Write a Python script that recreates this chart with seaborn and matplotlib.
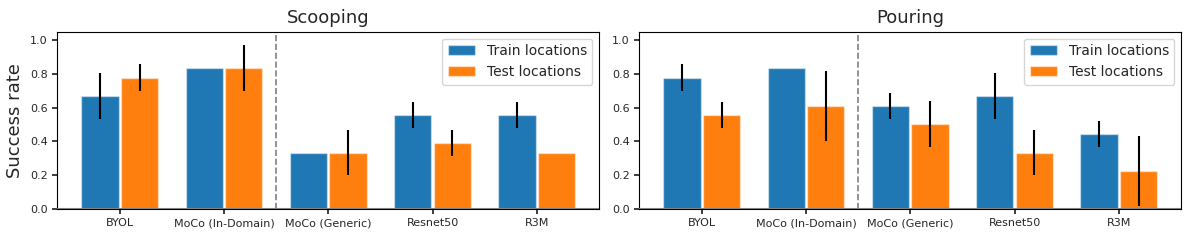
import matplotlib
matplotlib.use("Agg")
import matplotlib.pyplot as plt
import pandas as pd
import seaborn as sns

# Métodos avaliados (eixo x)
methods = ["BYOL", "MoCo (In-Domain)", "MoCo (Generic)", "Resnet50", "R3M"]
splits = ["Train locations", "Test locations"]

# Scooping
scoop_train = [0.667, 0.833, 0.333, 0.556, 0.556]
scoop_train_err = [0.136, 0.0, 0.0, 0.078, 0.078]
scoop_test = [0.778, 0.833, 0.333, 0.389, 0.333]
scoop_test_err = [0.078, 0.136, 0.136, 0.078, 0.0]

# Pouring
pour_train = [0.778, 0.833, 0.611, 0.667, 0.444]
pour_train_err = [0.078, 0.0, 0.078, 0.136, 0.078]
pour_test = [0.556, 0.611, 0.500, 0.333, 0.222]
pour_test_err = [0.078, 0.208, 0.136, 0.136, 0.208]

colors = ["#1f77b4", "#ff7f0e"]


def _make_df(train, test):
    rows = []
    for m, v in zip(methods, train):
        rows.append({"method": m, "split": splits[0], "rate": v})
    for m, v in zip(methods, test):
        rows.append({"method": m, "split": splits[1], "rate": v})
    return pd.DataFrame(rows)


def _plot_task(ax, train, test, train_err, test_err, title, ylabel=None):
    df = _make_df(train, test)
    sns.barplot(
        data=df, x="method", y="rate", hue="split", order=methods,
        hue_order=splits, palette=colors, errorbar=None, width=0.76,
        gap=0.06, saturation=1, edgecolor=(1, 1, 1, 0.45), linewidth=1,
        ax=ax,
    )
    # barras de erro (sem "caps")
    for container, errs in zip(ax.containers, [train_err, test_err]):
        for bar, e in zip(container, errs):
            if e > 0:
                xc = bar.get_x() + bar.get_width() / 2
                ax.errorbar(xc, bar.get_height(), yerr=e, color="black",
                            lw=1.5, capsize=0, zorder=5)

    ax.axvline(1.5, color="gray", ls="--", lw=1.2)
    ax.axhline(0, color="gray", lw=1.5, zorder=6)
    ax.set_xlim(-0.6, 4.6)
    ax.set_ylim(0, 1.05)
    ax.set_yticks([0.0, 0.2, 0.4, 0.6, 0.8, 1.0])
    ax.tick_params(axis="both", labelsize=8, length=3.5)
    ax.set_xlabel("")
    ax.set_ylabel(ylabel if ylabel else "", fontsize=13)
    ax.set_title(title, fontsize=13)
    for s in ax.spines.values():
        s.set_visible(True)
        s.set_color("black")
        s.set_linewidth(0.8)
    sns.move_legend(ax, "upper right", title=None, fontsize=10,
                    frameon=True)


sns.set_theme(style="ticks")
plt.rcParams["font.family"] = ["DejaVu Sans"]

fig = plt.figure(figsize=(11.96, 2.4), dpi=100)
ax1 = fig.add_axes([0.0479, 0.1304, 0.4532, 0.7376])
ax2 = fig.add_axes([0.5345, 0.1304, 0.4532, 0.7376])

_plot_task(ax1, scoop_train, scoop_test, scoop_train_err, scoop_test_err,
           "Scooping", ylabel="Success rate")
_plot_task(ax2, pour_train, pour_test, pour_train_err, pour_test_err,
           "Pouring")

fig.savefig("out.png", dpi=100)
plt.close(fig)
